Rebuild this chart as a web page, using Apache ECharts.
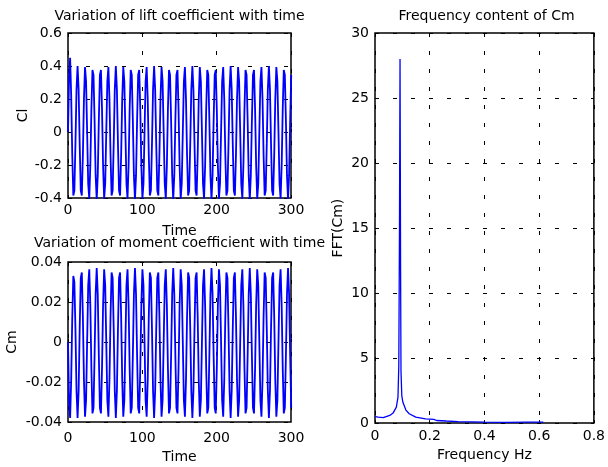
<!DOCTYPE html>
<html><head><meta charset="utf-8">
<script src="https://cdn.jsdelivr.net/npm/echarts@6/dist/echarts.min.js"></script>
<style>html,body{margin:0;padding:0;background:#fff}#c{width:608px;height:467px}</style>
</head><body><div id="c"></div>
<script>
// sample spacing of the time series (time units)
const sampleStep = 1.43;

// Lift coefficient Cl
const clValues = [
 0, 0.33, 0.45, 0.22, -0.14, -0.385, -0.355, -0.072, 0.257, 0.4, 0.257, -0.072, -0.355, -0.385, -0.14, 0.2, 0.394, 0.306, 0, -0.314, -0.404, -0.205, 0.137, 0.376, 0.346, 0.07, -0.263, -0.41, -0.263, 0.07, 0.346, 0.376, 0.137, -0.205, -0.404, -0.314,
 0, 0.306, 0.394, 0.2, -0.14, -0.385, -0.355, -0.072, 0.257, 0.4, 0.257, -0.072, -0.355, -0.385, -0.14, 0.2, 0.394, 0.306, 0, -0.314, -0.404, -0.205, 0.137, 0.376, 0.346, 0.07, -0.263, -0.41, -0.263, 0.07, 0.346, 0.376, 0.137, -0.205, -0.404, -0.314,
 0, 0.306, 0.394, 0.2, -0.14, -0.385, -0.355, -0.072, 0.257, 0.4, 0.257, -0.072, -0.355, -0.385, -0.14, 0.2, 0.394, 0.306, 0, -0.314, -0.404, -0.205, 0.137, 0.376, 0.346, 0.07, -0.263, -0.41, -0.263, 0.07, 0.346, 0.376, 0.137, -0.205, -0.404, -0.314,
 0, 0.306, 0.394, 0.2, -0.14, -0.385, -0.355, -0.072, 0.257, 0.4, 0.257, -0.072, -0.355, -0.385, -0.14, 0.2, 0.394, 0.306, 0, -0.314, -0.404, -0.205, 0.137, 0.376, 0.346, 0.07, -0.263, -0.41, -0.263, 0.07, 0.346, 0.376, 0.137, -0.205, -0.404, -0.314,
 0, 0.306, 0.394, 0.2, -0.14, -0.385, -0.355, -0.072, 0.257, 0.4, 0.257, -0.072, -0.355, -0.385, -0.14, 0.2, 0.394, 0.306, 0, -0.314, -0.404, -0.205, 0.137, 0.376, 0.346, 0.07, -0.263, -0.41, -0.263, 0.07, 0.346, 0.376, 0.137, -0.205, -0.404, -0.314,
 0, 0.306, 0.394, 0.2, -0.14, -0.385, -0.355, -0.072, 0.257, 0.4, 0.257, -0.072, -0.355, -0.385, -0.14, 0.2, 0.394, 0.306, 0, -0.314, -0.404, -0.205, 0.137, 0.376, 0.346, 0.07, -0.263, -0.41, -0.263, 0.07, 0.346
];

// Moment coefficient Cm
const cmValues = [
 0, -0.03, -0.038, -0.019, 0.012, 0.033, 0.03, 0.0065, -0.0244, -0.038, -0.0244, 0.0065, 0.032, 0.0348, 0.0127, -0.019, -0.0374, -0.0291, 0, 0.0283, 0.0364, 0.0185, -0.013, -0.0357, -0.0329, -0.0067, 0.0238, 0.037, 0.0238, -0.0067, -0.0329, -0.0357, -0.013, 0.0185, 0.0364, 0.0283,
 0, -0.0291, -0.0374, -0.019, 0.0127, 0.0348, 0.032, 0.0065, -0.0244, -0.038, -0.0244, 0.0065, 0.032, 0.0348, 0.0127, -0.019, -0.0374, -0.0291, 0, 0.0283, 0.0364, 0.0185, -0.013, -0.0357, -0.0329, -0.0067, 0.0238, 0.037, 0.0238, -0.0067, -0.0329, -0.0357, -0.013, 0.0185, 0.0364, 0.0283,
 0, -0.0291, -0.0374, -0.019, 0.0127, 0.0348, 0.032, 0.0065, -0.0244, -0.038, -0.0244, 0.0065, 0.032, 0.0348, 0.0127, -0.019, -0.0374, -0.0291, 0, 0.0283, 0.0364, 0.0185, -0.013, -0.0357, -0.0329, -0.0067, 0.0238, 0.037, 0.0238, -0.0067, -0.0329, -0.0357, -0.013, 0.0185, 0.0364, 0.0283,
 0, -0.0291, -0.0374, -0.019, 0.0127, 0.0348, 0.032, 0.0065, -0.0244, -0.038, -0.0244, 0.0065, 0.032, 0.0348, 0.0127, -0.019, -0.0374, -0.0291, 0, 0.0283, 0.0364, 0.0185, -0.013, -0.0357, -0.0329, -0.0067, 0.0238, 0.037, 0.0238, -0.0067, -0.0329, -0.0357, -0.013, 0.0185, 0.0364, 0.0283,
 0, -0.0291, -0.0374, -0.019, 0.0127, 0.0348, 0.032, 0.0065, -0.0244, -0.038, -0.0244, 0.0065, 0.032, 0.0348, 0.0127, -0.019, -0.0374, -0.0291, 0, 0.0283, 0.0364, 0.0185, -0.013, -0.0357, -0.0329, -0.0067, 0.0238, 0.037, 0.0238, -0.0067, -0.0329, -0.0357, -0.013, 0.0185, 0.0364, 0.0283,
 0, -0.0291, -0.0374, -0.019, 0.0127, 0.0348, 0.032, 0.0065, -0.0244, -0.038, -0.0244, 0.0065, 0.032, 0.0348, 0.0127, -0.019, -0.0374, -0.0291, 0, 0.0283, 0.0364, 0.0185, -0.013, -0.0357, -0.0329, -0.0067, 0.0238, 0.037, 0.0238, -0.0067, -0.0329
];

// FFT of Cm
const fftFreq = [0, 0.012, 0.03, 0.054, 0.066, 0.078, 0.084, 0.087, 0.0895, 0.0915, 0.0935, 0.095, 0.098, 0.102, 0.113, 0.125, 0.149, 0.185, 0.215, 0.225, 0.26, 0.304, 0.4, 0.48, 0.484, 0.555, 0.615];
const fftAmp  = [0.5, 0.46, 0.42, 0.59, 0.77, 1.23, 2.0, 4.4, 15, 28, 12, 4.0, 2.1, 1.6, 1.0, 0.72, 0.46, 0.33, 0.28, 0.2, 0.16, 0.12, 0.08, 0.06, 0.03, 0.07, 0.07];

// tick labels
const timeTicks = [0, 100, 200, 300];
const clTicks = [-0.4, -0.2, 0, 0.2, 0.4, 0.6];
const cmTicks = [-0.04, -0.02, 0, 0.02, 0.04];
const freqTicks = [0, 0.2, 0.4, 0.6, 0.8];
const fftTicks = [0, 5, 10, 15, 20, 25, 30];

// texts
const panelTitles = ['Variation of lift coefficient with time', 'Variation of moment coefficient with time', 'Frequency content of Cm'];
const xNames = ['Time', 'Time', 'Frequency Hz'];
const yNames = ['Cl', 'Cm', 'FFT(Cm)'];

const time = clValues.map((_, i) => i * sampleStep);
const FONT = 'DejaVu Sans';

function tickAxis(ticks) {
  return { min: ticks[0], max: ticks[ticks.length - 1], interval: ticks[1] - ticks[0] };
}

const grids = [
  { left: 68, top: 33, width: 223, height: 165 },
  { left: 68, top: 262, width: 223, height: 160 },
  { left: 375, top: 33, width: 223, height: 391 }
].map(g => Object.assign(g, { show: true, borderColor: '#000', borderWidth: 1.5, backgroundColor: '#fff' }));

const gridLine = { show: true, lineStyle: { color: '#000', width: 1, type: [4, 14] } };

function xAxis(i, ticks, name, nameGap, labelMargin) {
  return Object.assign({
    type: 'value', gridIndex: i, name: name, nameLocation: 'middle', nameGap: nameGap,
    nameTextStyle: { fontFamily: FONT, fontSize: 14, color: '#000' },
    axisLine: { show: false },
    axisTick: { show: true, inside: true, length: 3, lineStyle: { color: '#000' } },
    axisLabel: { fontFamily: FONT, fontSize: 14, color: '#000', margin: labelMargin },
    splitLine: gridLine
  }, tickAxis(ticks));
}
function yAxis(i, ticks, name, nameGap) {
  return Object.assign({
    type: 'value', gridIndex: i, name: name, nameLocation: 'middle', nameGap: nameGap, nameRotate: 90,
    nameTextStyle: { fontFamily: FONT, fontSize: 14, color: '#000' },
    axisLine: { show: false },
    axisTick: { show: true, inside: true, length: 3, lineStyle: { color: '#000' } },
    axisLabel: { fontFamily: FONT, fontSize: 14, color: '#000', margin: 6 },
    splitLine: gridLine
  }, tickAxis(ticks));
}

const lineSeries = (xi, data, w) => ({
  type: 'line', xAxisIndex: xi, yAxisIndex: xi, data: data, showSymbol: false, symbol: 'none',
  lineStyle: { color: '#0000ff', width: w }, clip: true
});

const option = {
  animation: false,
  backgroundColor: '#fff',
  title: [
    { text: panelTitles[0], left: 179.5, top: 9 },
    { text: panelTitles[1], left: 179.5, top: 236 },
    { text: panelTitles[2], left: 486.5, top: 9 }
  ].map(t => Object.assign(t, { textAlign: 'center', padding: 0, textStyle: { fontFamily: FONT, fontSize: 14, fontWeight: 'normal', color: '#000' } })),
  grid: grids,
  xAxis: [
    xAxis(0, timeTicks, xNames[0], 26, 5),
    xAxis(1, timeTicks, xNames[1], 28, 9),
    xAxis(2, freqTicks, xNames[2], 20, 6)
  ],
  yAxis: [
    yAxis(0, clTicks, yNames[0], 38),
    yAxis(1, cmTicks, yNames[1], 49),
    yAxis(2, fftTicks, yNames[2], 30)
  ],
  series: [
    lineSeries(0, time.map((t, i) => [t, clValues[i]]), 1.8),
    lineSeries(1, time.map((t, i) => [t, cmValues[i]]), 1.8),
    lineSeries(2, fftFreq.map((f, i) => [f, fftAmp[i]]), 1.3)
  ]
};

const chart = echarts.init(document.getElementById('c'), null, { renderer: 'canvas' });
chart.setOption(option);
</script>
</body></html>
